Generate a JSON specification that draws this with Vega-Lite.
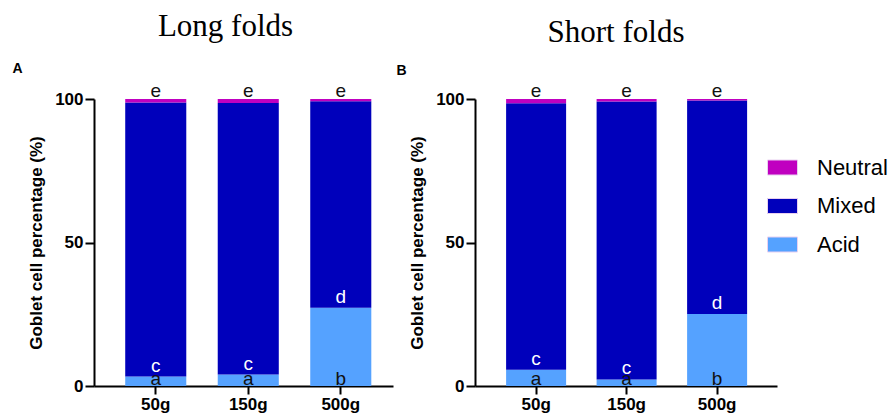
{
  "$schema": "https://vega.github.io/schema/vega-lite/v6.json",
  "background": "white",
  "padding": {"left": 12, "top": 11, "right": 2, "bottom": 2},
  "bounds": "flush",
  "spacing": 82,
  "config": {"view": {"stroke": null}, "font": "Liberation Sans"},
  "datasets": {
    "A": [
      {"dose": "50g", "type": "Acid", "pct": 3.3, "letter": "a"},
      {"dose": "50g", "type": "Mixed", "pct": 95.5, "letter": "c"},
      {"dose": "50g", "type": "Neutral", "pct": 1.2, "letter": "e"},
      {"dose": "150g", "type": "Acid", "pct": 4.0, "letter": "a"},
      {"dose": "150g", "type": "Mixed", "pct": 94.6, "letter": "c"},
      {"dose": "150g", "type": "Neutral", "pct": 1.4, "letter": "e"},
      {"dose": "500g", "type": "Acid", "pct": 27.3, "letter": "b"},
      {"dose": "500g", "type": "Mixed", "pct": 71.9, "letter": "d"},
      {"dose": "500g", "type": "Neutral", "pct": 0.8, "letter": "e"}
    ],
    "B": [
      {"dose": "50g", "type": "Acid", "pct": 5.7, "letter": "a"},
      {"dose": "50g", "type": "Mixed", "pct": 92.8, "letter": "c"},
      {"dose": "50g", "type": "Neutral", "pct": 1.5, "letter": "e"},
      {"dose": "150g", "type": "Acid", "pct": 2.3, "letter": "a"},
      {"dose": "150g", "type": "Mixed", "pct": 96.8, "letter": "c"},
      {"dose": "150g", "type": "Neutral", "pct": 0.9, "letter": "e"},
      {"dose": "500g", "type": "Acid", "pct": 25.1, "letter": "b"},
      {"dose": "500g", "type": "Mixed", "pct": 74.4, "letter": "d"},
      {"dose": "500g", "type": "Neutral", "pct": 0.5, "letter": "e"}
    ]
  },
  "resolve": {"legend": {"color": "independent"}},
  "hconcat": [
    {
      "data": {"name": "A"},
      "width": 299,
      "height": 287,
      "title": {"text": "Long folds", "frame": "group", "anchor": "middle", "dx": -18, "offset": 18, "font": "Liberation Serif", "fontSize": 31, "fontWeight": "normal", "color": "black"},
      "transform": [{"stack": "pct", "groupby": ["dose"], "sort": [{"field": "type", "order": "ascending"}], "as": ["y0", "y1"]}],
      "resolve": {"axis": {"x": "independent"}},
      "layer": [
        {
          "mark": {"type": "bar"},
          "encoding": {
            "x": {"field": "dose", "type": "nominal", "sort": ["50g", "150g", "500g"], "scale": {"paddingInner": 0.34, "paddingOuter": 0.286, "align": 0.59},
              "axis": {"title": null, "labelAngle": 0, "labelFontSize": 17, "labelFontWeight": "bold", "labelColor": "black", "labelPadding": 2, "tickSize": 8, "tickWidth": 2, "tickColor": "black", "domainColor": "black", "domainWidth": 2}},
            "y": {"field": "y1", "type": "quantitative", "scale": {"domain": [0, 100], "nice": false},
              "axis": {"values": [0, 50, 100], "title": "Goblet cell percentage (%)", "titleFontSize": 17, "titleFontWeight": "bold", "titleColor": "black", "titlePadding": 9, "labelFontSize": 17, "labelFontWeight": "bold", "labelColor": "black", "labelPadding": 2, "tickSize": 9, "tickWidth": 2, "tickColor": "black", "domainColor": "black", "domainWidth": 2, "grid": false}},
            "y2": {"field": "y0"},
            "color": {"field": "type", "type": "nominal", "scale": {"domain": ["Neutral", "Mixed", "Acid"], "range": ["#C000C0", "#0000BB", "#55A2FF"]}, "legend": null}
          }
        },
        {
          "transform": [{"filter": "datum.type === 'Acid'"}],
          "mark": {"type": "text", "baseline": "alphabetic", "dy": -1, "fontSize": 19, "color": "#111"},
          "encoding": {
            "x": {"field": "dose", "type": "nominal", "sort": ["50g", "150g", "500g"],
              "axis": {"orient": "top", "title": "A", "labels": false, "ticks": false, "domain": false, "grid": false, "titleFontSize": 14, "titleFontWeight": "bold", "titleColor": "black", "titleX": -82, "titleY": -27, "titleAlign": "left", "titleBaseline": "alphabetic", "titleAngle": 0}},
            "y": {"field": "y0", "type": "quantitative"},
            "text": {"field": "letter"}
          }
        },
        {
          "transform": [{"filter": "datum.type === 'Mixed'"}],
          "mark": {"type": "text", "baseline": "alphabetic", "dy": -5, "fontSize": 19, "color": "white"},
          "encoding": {
            "x": {"field": "dose", "type": "nominal", "sort": ["50g", "150g", "500g"], "axis": null},
            "y": {"field": "y0", "type": "quantitative"},
            "text": {"field": "letter"}
          }
        },
        {
          "transform": [{"filter": "datum.type === 'Neutral'"}],
          "mark": {"type": "text", "baseline": "alphabetic", "dy": -2, "fontSize": 19, "color": "#111"},
          "encoding": {
            "x": {"field": "dose", "type": "nominal", "sort": ["50g", "150g", "500g"], "axis": null},
            "y": {"field": "y1", "type": "quantitative"},
            "text": {"field": "letter"}
          }
        }
      ]
    },
    {
      "data": {"name": "B"},
      "width": 302,
      "height": 287,
      "title": {"text": "Short folds", "frame": "group", "anchor": "middle", "dx": -10, "offset": 14, "font": "Liberation Serif", "fontSize": 31, "fontWeight": "normal", "color": "black"},
      "transform": [{"stack": "pct", "groupby": ["dose"], "sort": [{"field": "type", "order": "ascending"}], "as": ["y0", "y1"]}],
      "resolve": {"axis": {"x": "independent"}},
      "layer": [
        {
          "mark": {"type": "bar"},
          "encoding": {
            "x": {"field": "dose", "type": "nominal", "sort": ["50g", "150g", "500g"], "scale": {"paddingInner": 0.337, "paddingOuter": 0.337, "align": 0.51},
              "axis": {"title": null, "labelAngle": 0, "labelFontSize": 17, "labelFontWeight": "bold", "labelColor": "black", "labelPadding": 2, "tickSize": 8, "tickWidth": 2, "tickColor": "black", "domainColor": "black", "domainWidth": 2}},
            "y": {"field": "y1", "type": "quantitative", "scale": {"domain": [0, 100], "nice": false},
              "axis": {"values": [0, 50, 100], "title": "Goblet cell percentage (%)", "titleFontSize": 17, "titleFontWeight": "bold", "titleColor": "black", "titlePadding": 9, "labelFontSize": 17, "labelFontWeight": "bold", "labelColor": "black", "labelPadding": 2, "tickSize": 9, "tickWidth": 2, "tickColor": "black", "domainColor": "black", "domainWidth": 2, "grid": false}},
            "y2": {"field": "y0"},
            "color": {"field": "type", "type": "nominal", "scale": {"domain": ["Neutral", "Mixed", "Acid"], "range": ["#C000C0", "#0000BB", "#55A2FF"]},
              "legend": {"orient": "none", "legendX": 292, "legendY": 53, "title": null, "symbolType": "M-1,-0.5H1V0.5H-1Z", "symbolSize": 900, "symbolStrokeColor": "#e8d0f0", "symbolStrokeWidth": 1, "symbolOpacity": 1, "labelFontSize": 22, "labelColor": "black", "labelOffset": 19, "rowPadding": 11.5}}
          }
        },
        {
          "transform": [{"filter": "datum.type === 'Acid'"}],
          "mark": {"type": "text", "baseline": "alphabetic", "dy": -1, "fontSize": 19, "color": "#111"},
          "encoding": {
            "x": {"field": "dose", "type": "nominal", "sort": ["50g", "150g", "500g"],
              "axis": {"orient": "top", "title": "B", "labels": false, "ticks": false, "domain": false, "grid": false, "titleFontSize": 14, "titleFontWeight": "bold", "titleColor": "black", "titleX": -79, "titleY": -25, "titleAlign": "left", "titleBaseline": "alphabetic", "titleAngle": 0}},
            "y": {"field": "y0", "type": "quantitative"},
            "text": {"field": "letter"}
          }
        },
        {
          "transform": [{"filter": "datum.type === 'Mixed'"}],
          "mark": {"type": "text", "baseline": "alphabetic", "dy": -5, "fontSize": 19, "color": "white"},
          "encoding": {
            "x": {"field": "dose", "type": "nominal", "sort": ["50g", "150g", "500g"], "axis": null},
            "y": {"field": "y0", "type": "quantitative"},
            "text": {"field": "letter"}
          }
        },
        {
          "transform": [{"filter": "datum.type === 'Neutral'"}],
          "mark": {"type": "text", "baseline": "alphabetic", "dy": -2, "fontSize": 19, "color": "#111"},
          "encoding": {
            "x": {"field": "dose", "type": "nominal", "sort": ["50g", "150g", "500g"], "axis": null},
            "y": {"field": "y1", "type": "quantitative"},
            "text": {"field": "letter"}
          }
        }
      ]
    }
  ]
}
